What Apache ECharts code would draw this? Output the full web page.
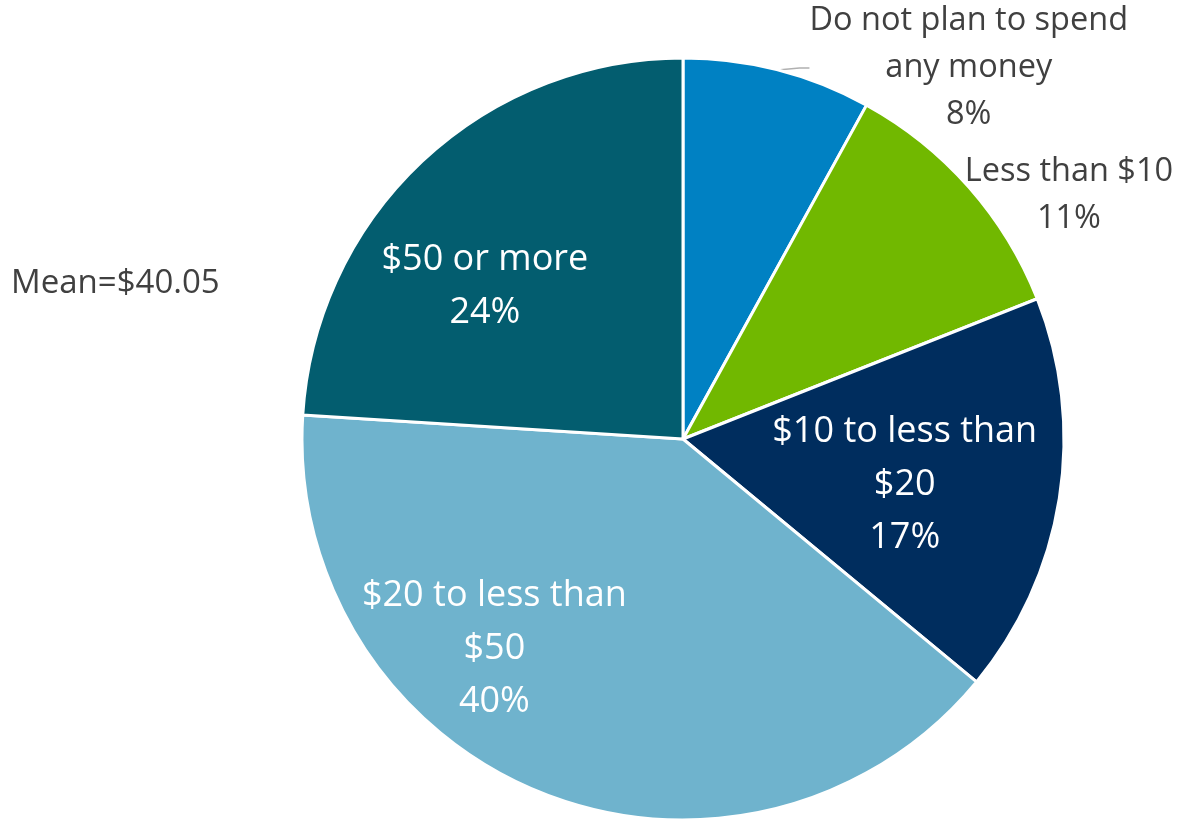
<!DOCTYPE html>
<html>
<head>
<meta charset="utf-8">
<script src="https://cdn.jsdelivr.net/npm/echarts@6/dist/echarts.min.js"></script>
<style>
  html, body { margin: 0; padding: 0; background: #ffffff; }
  #chart { width: 1177px; height: 819px; }
</style>
</head>
<body>
<div id="chart"></div>
<script>
// Planned spending categories, in clockwise order from 12 o'clock
const categories = [
  'Do not plan to spend\nany money',
  'Less than $10',
  '$10 to less than\n$20',
  '$20 to less than\n$50',
  '$50 or more'
];
const shares = [8, 11, 17, 40, 24];
const sliceColors = ['#0081C3', '#71B800', '#002D5E', '#6FB3CD', '#035D6F'];
const meanText = 'Mean=$40.05';

const FONT = '"Open Sans", sans-serif';
const CX = 683, CY = 439, R = 381;

// label anchor offsets relative to pie center, in units of radius
const labelSpots = [
  { dx: 0.75, dy: -0.974, outside: true },
  { dx: 1.013, dy: -0.64, outside: true },
  { dx: 0.582, dy: 0.12, outside: false },
  { dx: -0.495, dy: 0.55, outside: false },
  { dx: -0.52, dy: -0.40, outside: false }
];

const data = categories.map((name, i) => {
  const spot = labelSpots[i];
  return {
    name: name,
    value: shares[i],
    itemStyle: { color: sliceColors[i] },
    label: spot.outside ? {
      color: '#404040', fontSize: 32.5, lineHeight: 47
    } : {
      color: '#ffffff', fontSize: 36, lineHeight: 53
    },
    labelLine: { show: i === 0 }
  };
});

const chart = echarts.init(document.getElementById('chart'), null, { renderer: 'canvas' });
chart.setOption({
  backgroundColor: '#ffffff',
  animation: false,
  title: {
    text: meanText,
    left: 6,
    top: 262,
    textStyle: { fontFamily: FONT, fontSize: 33, fontWeight: 'normal', color: '#404040' }
  },
  series: [{
    type: 'pie',
    center: [CX, CY],
    radius: ['0%', R],
    startAngle: 90,
    clockwise: true,
    avoidLabelOverlap: false,
    itemStyle: { borderColor: '#ffffff', borderWidth: 3 },
    label: {
      show: true,
      position: 'outside',
      fontFamily: FONT,
      align: 'center',
      formatter: p => p.name + '\n' + p.value + '%'
    },
    labelLine: {
      show: true,
      length: 20,
      length2: 10,
      lineStyle: { color: '#B0B0B0', width: 1.5 }
    },
    labelLayout: function (params) {
      const s = labelSpots[params.dataIndex];
      return {
        x: CX + s.dx * R,
        y: CY + s.dy * R,
        align: 'center',
        verticalAlign: 'middle'
      };
    },
    emphasis: { disabled: true },
    data: data
  }]
});
</script>
</body>
</html>
